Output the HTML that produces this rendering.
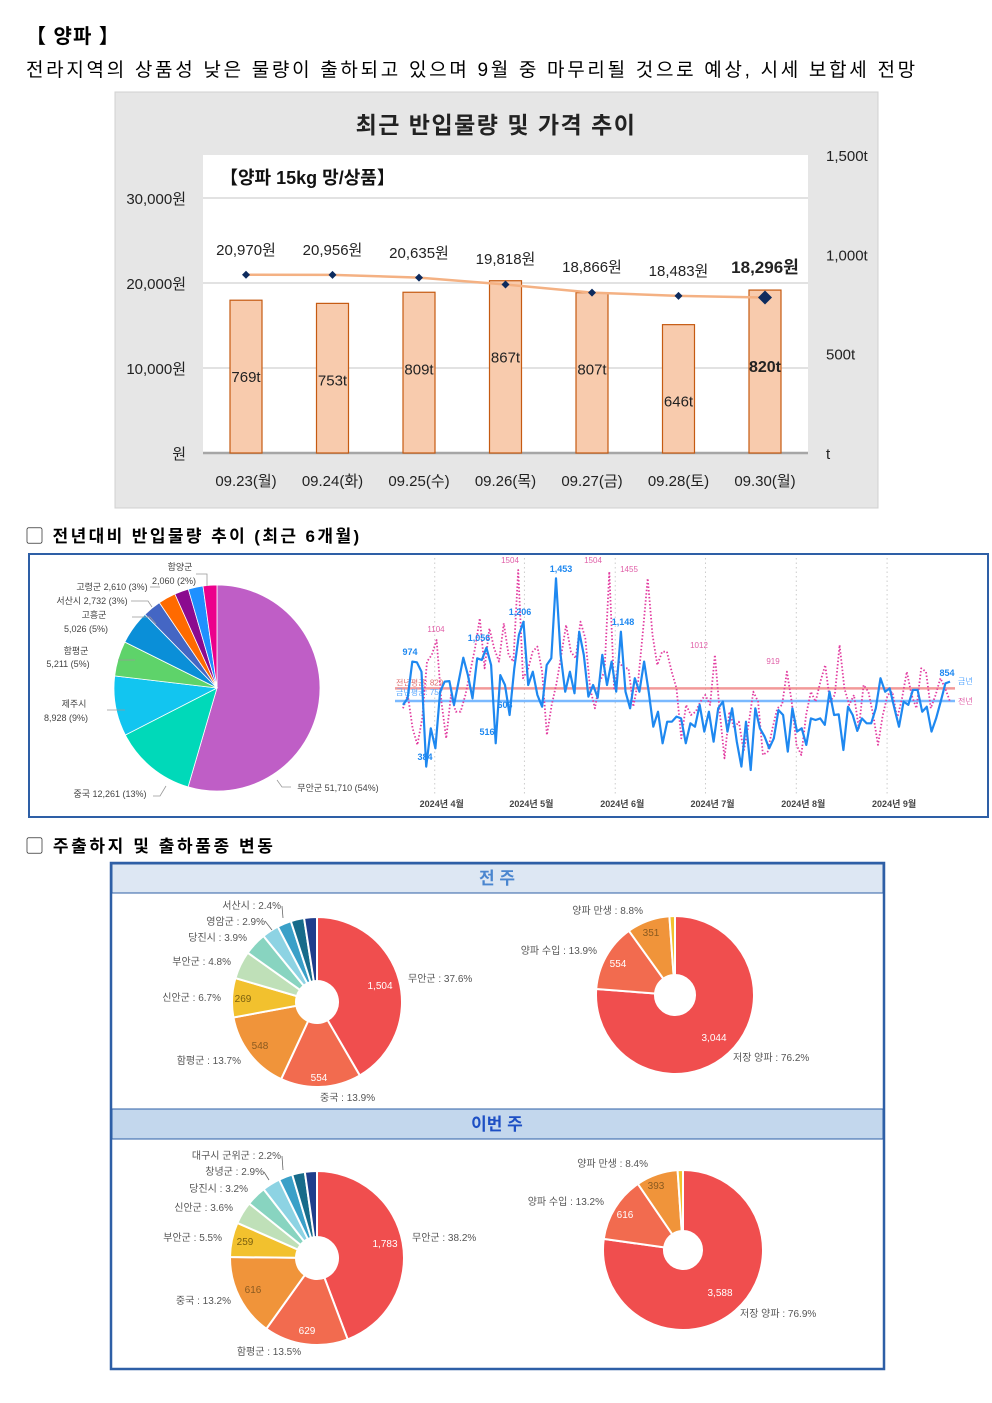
<!DOCTYPE html>
<html><head><meta charset="utf-8">
<style>
body{margin:0;background:#fff;width:992px;height:1403px;position:relative;overflow:hidden;font-family:"Liberation Sans","Noto Sans CJK KR",sans-serif;}
.t{position:absolute;white-space:nowrap;color:#000}
svg{position:absolute;left:0;top:0}
</style></head>
<body>
<div class="t" style="left:26px;top:20px;font-size:20px;font-weight:bold;letter-spacing:1px;">【 양파 】</div>
<div class="t" style="left:26px;top:55px;font-size:19px;letter-spacing:2.7px;">전라지역의 상품성 낮은 물량이 출하되고 있으며 9월 중 마무리될 것으로 예상, 시세 보합세 전망</div>
<div class="t" style="left:26px;top:522px;font-size:17px;font-weight:bold;letter-spacing:2.4px;">▢ 전년대비 반입물량 추이 (최근 6개월)</div>
<div class="t" style="left:26px;top:832px;font-size:17px;font-weight:bold;letter-spacing:2.6px;">▢ 주출하지 및 출하품종 변동</div>

<svg id="s" width="992" height="1403" font-family="Liberation Sans, Noto Sans CJK KR, sans-serif">
 <g id="topchart">
  <rect x="115" y="92" width="763" height="416" fill="#e6e6e6" stroke="#d0d0d0"/>
  <rect x="203" y="155" width="605" height="298" fill="#fff"/>
  <text x="496" y="133" font-size="23" text-anchor="middle" font-weight="bold" fill="#222" letter-spacing="1.5">최근 반입물량 및 가격 추이</text>
  <text x="220" y="184" font-size="18" font-weight="bold" fill="#111">【양파 15kg 망/상품】</text>
 </g>
 <rect x="29" y="554" width="959" height="263" fill="#fff" stroke="#2e5fa6" stroke-width="2"/>
 <g id="pie1"></g>
 <g id="line"></g>
 <rect x="111" y="863" width="773" height="506" fill="#fff" stroke="#2e5fa6" stroke-width="2.5"/>
 <rect x="112" y="864" width="771" height="29" fill="#dde7f3" stroke="#2e5fa6" stroke-width="1"/>
 <text x="497" y="884" font-size="17" font-weight="bold" text-anchor="middle" fill="#4a86cf">전 주</text>
 <rect x="112" y="1109" width="771" height="30" fill="#c3d7ed" stroke="#2e5fa6" stroke-width="1"/>
 <text x="497" y="1130" font-size="17" font-weight="bold" text-anchor="middle" fill="#1d4fc4">이번 주</text>
 <g id="donuts"></g>
</svg>

<script>
const NS="http://www.w3.org/2000/svg";
function mk(parent,tag,attrs,txt){const e=document.createElementNS(NS,tag);for(const k in attrs)e.setAttribute(k,attrs[k]);if(txt!==undefined)e.textContent=txt;parent.appendChild(e);return e;}

const dates=["09.23(월)","09.24(화)","09.25(수)","09.26(목)","09.27(금)","09.28(토)","09.30(월)"];
const volumes=[769,753,809,867,807,646,820];
const prices=[20970,20956,20635,19818,18866,18483,18296];
const leftTicks=[0,10000,20000,30000];
const leftTickLabels=["원","10,000원","20,000원","30,000원"];
const rightTicks=[0,500,1000,1500];
const rightTickLabels=["t","500t","1,000t","1,500t"];

const topG=document.getElementById('topchart');
const yP=v=>453-v*0.0085;
const yV=v=>453-v*0.1987;
const xC=i=>246+i*86.5;
leftTicks.forEach((t,i)=>{
  if(t>0){const gl=mk(topG,'line',{x1:203,x2:808,y1:yP(t),y2:yP(t),stroke:'#d9d9d9','stroke-width':1.5});
  }
  const tx=mk(topG,'text',{x:186,y:yP(t)+6,'font-size':15,'text-anchor':'end',fill:'#222'},leftTickLabels[i]);
  
});
rightTicks.forEach((t,i)=>{
  const tx=mk(topG,'text',{x:826,y:yV(t)+6,'font-size':15,fill:'#222'},rightTickLabels[i]);
  
});
const base=mk(topG,'line',{x1:203,x2:808,y1:453,y2:453,stroke:'#a6a6a6','stroke-width':2.5});

volumes.forEach((v,i)=>{
  const b=mk(topG,'rect',{x:xC(i)-16,y:yV(v),width:32,height:453-yV(v),fill:'#f8cbad',stroke:'#c55a11','stroke-width':1.2});
  
  const last=i===volumes.length-1;
  const lb=mk(topG,'text',{x:xC(i),y:yV(v)+82,'font-size':last?16:15,'font-weight':last?'bold':'normal','text-anchor':'middle',fill:'#222'},v+'t');
  
  const d=mk(topG,'text',{x:xC(i),y:486,'font-size':15,'text-anchor':'middle',fill:'#222'},dates[i]);
  
});
let pd='';
prices.forEach((p,i)=>{pd+=(i?'L':'M')+xC(i)+','+yP(p);});
const pl=mk(topG,'path',{d:pd,fill:'none',stroke:'#f4b183','stroke-width':2.5,'stroke-linejoin':'round'});

const priceLabelY=[255,255,258,264,272,276,273];
prices.forEach((p,i)=>{
  const last=i===prices.length-1;const s=last?7:4;
  const x=xC(i),y=yP(p);
  const m=mk(topG,'path',{d:`M${x},${y-s}L${x+s},${y}L${x},${y+s}L${x-s},${y}Z`,fill:'#0d2b5e'});
  
  const t=mk(topG,'text',{x:x,y:priceLabelY[i],'font-size':last?17:15,'font-weight':last?'bold':'normal','text-anchor':'middle',fill:'#222'},p.toLocaleString('en-US')+'원');
  
});

function arcPath(cx,cy,r,r0,a0,a1){
  const p=(rr,a)=>[cx+rr*Math.sin(a),cy-rr*Math.cos(a)];
  const large=(a1-a0)>Math.PI?1:0;
  const [x1,y1]=p(r,a0),[x2,y2]=p(r,a1);
  if(r0<=0) return `M${cx},${cy}L${x1},${y1}A${r},${r} 0 ${large} 1 ${x2},${y2}Z`;
  const [x3,y3]=p(r0,a1),[x4,y4]=p(r0,a0);
  return `M${x1},${y1}A${r},${r} 0 ${large} 1 ${x2},${y2}L${x3},${y3}A${r0},${r0} 0 ${large} 0 ${x4},${y4}Z`;
}
function drawPie(g,cx,cy,r,r0,vals,cols,sw,name){
  const tot=vals.reduce((a,b)=>a+b,0);let a=0;
  vals.forEach((v,i)=>{
    const a1=a+v/tot*2*Math.PI;
    const p=mk(g,'path',{d:arcPath(cx,cy,r,r0,a,a1),fill:cols[i],stroke:'#fff','stroke-width':sw});
    
    a=a1;
  });
}
function label(g,x,y,txt,size,anchor,fill,weight){
  const t=mk(g,'text',{x:x,y:y,'font-size':size,'text-anchor':anchor||'start',fill:fill||'#444','font-weight':weight||'normal'},txt);
  
}

const pieNames=["무안군","중국","제주시","함평군","고흥군","서산시","고령군","기타1","기타2","함양군"];
const pieValues=[51710,12261,8928,5211,5026,2732,2610,2100,2200,2060];
const pieColors=["#bf5ec6","#00d9b9","#12c5f0","#5ed36a","#0a8fd8","#4466c4","#ff6a00","#8b0a8f","#1e90ff","#ec008c"];
const pie1=document.getElementById('pie1');
drawPie(pie1,217,688,103,0,pieValues,pieColors,0.8,'origin-slice');
[["함양군",180,570,"middle"],["2,060 (2%)",174,584,"middle"],["고령군 2,610 (3%)",112,590,"middle"],["서산시 2,732 (3%)",92,604,"middle"],["고흥군",94,618,"middle"],["5,026 (5%)",86,632,"middle"],["함평군",76,654,"middle"],["5,211 (5%)",68,667,"middle"],["제주시",74,707,"middle"],["8,928 (9%)",66,721,"middle"],["중국 12,261 (13%)",110,797,"middle"],["무안군 51,710 (54%)",338,791,"middle"]].forEach(l=>label(pie1,l[1],l[2],l[0],9,l[3],'#444'));
const leaders=[[196,574,207,574,207,586],[150,587,160,587],[131,601,148,601,152,607],[132,617,150,617,156,624],[118,660,135,660],[107,710,125,710],[153,796,160,796,166,786],[291,787,282,787,277,780]];
leaders.forEach(p=>{let d='M'+p[0]+','+p[1];for(let i=2;i<p.length;i+=2)d+='L'+p[i]+','+p[i+1];
  const l=mk(pie1,'path',{d:d,fill:'none',stroke:'#999','stroke-width':0.8});});

const thisYear=[735,772,980,976,923,386,603,490,810,867,870,735,867,1002,904,772,999,989,1059,961,518,904,848,678,942,1131,1206,848,923,791,725,961,999,1451,1018,810,923,801,1149,1018,782,848,776,1018,848,980,810,1149,810,716,886,810,980,810,612,697,518,640,640,669,659,518,631,612,735,584,697,527,716,754,584,716,527,386,640,367,716,603,556,490,546,706,678,471,716,584,603,509,659,650,659,622,810,678,682,480,725,678,588,659,631,631,716,886,810,829,716,612,754,735,820,820,697,725,584,659,754,857,867];
const lastYear=[716,791,603,509,659,980,1018,1102,754,546,791,697,697,791,923,1055,1225,942,1168,1055,980,1197,1018,980,1498,886,933,1036,1065,923,565,735,857,1018,1187,1036,999,1206,1112,829,716,867,923,1489,829,980,942,942,725,867,1149,1451,1131,961,1036,1036,923,829,546,735,678,697,754,791,735,1018,697,433,697,603,640,471,622,810,754,452,471,603,716,735,923,754,509,452,678,810,754,867,961,754,791,1074,829,735,791,603,848,810,678,509,678,791,810,659,772,923,791,716,942,923,716,791,886,829,754];
const avgLastYear=829, avgThisYear=757;
const months=["2024년 4월","2024년 5월","2024년 6월","2024년 7월","2024년 8월","2024년 9월"];
const monthStart=[0.058,0.222,0.388,0.553,0.719,0.885];
const lineG=document.getElementById('line');
const LX0=403,LX1=950;
const ly=v=>578+(1453-v)*0.1768;
const lxf=f=>LX0+f*(LX1-LX0);
months.forEach((m,i)=>{
  const x=lxf(monthStart[i]);
  const gl=mk(lineG,'line',{x1:x,x2:x,y1:558,y2:795,stroke:'#ccc','stroke-dasharray':'1.5,3'});
  
  const t=mk(lineG,'text',{x:x+7,y:807,'font-size':9,'font-weight':'bold','text-anchor':'middle',fill:'#444'},m);
  
});
const a1=mk(lineG,'line',{x1:395,x2:955,y1:ly(avgLastYear),y2:ly(avgLastYear),stroke:'#f08080','stroke-width':2.5,opacity:0.8});

const a2=mk(lineG,'line',{x1:395,x2:955,y1:ly(avgThisYear),y2:ly(avgThisYear),stroke:'#5aa8ff','stroke-width':2.5,opacity:0.8});

label(lineG,396,ly(avgLastYear)-3,'전년평균: '+avgLastYear,8,'start','#e07070');
label(lineG,396,ly(avgThisYear)-6,'금년평균: '+avgThisYear,8,'start','#5aa8ff');
function series(vals,stroke,w,dash,name){
  let d='';vals.forEach((v,i)=>{d+=(i?'L':'M')+lxf(i/(vals.length-1)).toFixed(1)+','+ly(v).toFixed(1);});
  const p=mk(lineG,'path',{d:d,fill:'none',stroke:stroke,'stroke-width':w,'stroke-linejoin':'round'});
  if(dash)p.setAttribute('stroke-dasharray',dash);
  
}
series(lastYear,'#e23ca0',1.8,'1.5,2','last-year-line');
series(thisYear,'#1e88f0',2.2,null,'this-year-line');
label(lineG,958,684,'금년',8,'start','#5aa8ff');
label(lineG,958,704,'전년',8,'start','#e060a8');
[["974",410,655],["1,056",479,641],["1,206",520,615],["1,453",561,572],["1,148",623,625],["854",947,676],["384",425,760],["516",487,735],["603",505,708]].forEach(l=>label(lineG,l[1],l[2],l[0],9,'middle','#1e88f0','bold'));
[["1104",436,632],["1504",510,563],["1504",593,563],["1455",629,572],["1012",699,648],["919",773,664]].forEach(l=>label(lineG,l[1],l[2],l[0],8,'middle','#e060a8'));

const lwOrigins=["무안군","중국","함평군","신안군","부안군","당진시","영암군","서산시","기타A","기타B"];
const lwOriginVals=[1504,554,548,269,192,156,116,96,92,88];
const twOrigins=["무안군","함평군","중국","부안군","신안군","당진시","창녕군","대구시 군위군","기타A","기타B"];
const twOriginVals=[1783,629,616,259,168,150,135,103,95,90];
const lwVariety=["저장 양파","양파 수입","양파 만생","기타"];
const lwVarietyVals=[3044,554,351,45];
const twVariety=["저장 양파","양파 수입","양파 만생","기타"];
const twVarietyVals=[3588,616,393,50];
const oCols=["#f04e4e","#f26b4f","#f0943a","#f2c12e","#bfe0b8","#88d4c0","#8dd3e3","#3aa0c8","#176b8a","#1f3e8c"];
const vCols=["#f04e4e","#f26b4f","#f0943a","#f2c12e"];
const dg=document.getElementById('donuts');
drawPie(dg,317,1002,85,21,lwOriginVals,oCols,2,'last-week-origin-slice');
drawPie(dg,675,995,79,20,lwVarietyVals,vCols,2,'last-week-variety-slice');
drawPie(dg,317,1258,87,21,twOriginVals,oCols,2,'this-week-origin-slice');
drawPie(dg,683,1250,80,19,twVarietyVals,vCols,2,'this-week-variety-slice');
const fs=10;
[["서산시 : 2.4%",281,909,'end'],["영암군 : 2.9%",265,925,'end'],["당진시 : 3.9%",247,941,'end'],["부안군 : 4.8%",231,965,'end'],["신안군 : 6.7%",221,1001,'end'],["함평군 : 13.7%",241,1064,'end'],["중국 : 13.9%",320,1101,'start'],["무안군 : 37.6%",408,982,'start']].forEach(l=>label(dg,l[1],l[2],l[0],fs,l[3],'#555'));
label(dg,380,989,'1,504',fs,'middle','#fff');label(dg,319,1081,'554',fs,'middle','#fff');label(dg,260,1049,'548',fs,'middle','#8a5a20');label(dg,243,1002,'269',fs,'middle','#7a6010');
[["양파 만생 : 8.8%",643,914,'end'],["양파 수입 : 13.9%",597,954,'end'],["저장 양파 : 76.2%",733,1061,'start']].forEach(l=>label(dg,l[1],l[2],l[0],fs,l[3],'#555'));
label(dg,714,1041,'3,044',fs,'middle','#fff');label(dg,618,967,'554',fs,'middle','#fff');label(dg,651,936,'351',fs,'middle','#8a5a20');
[["대구시 군위군 : 2.2%",281,1159,'end'],["창녕군 : 2.9%",264,1175,'end'],["당진시 : 3.2%",248,1192,'end'],["신안군 : 3.6%",233,1211,'end'],["부안군 : 5.5%",222,1241,'end'],["중국 : 13.2%",231,1304,'end'],["함평군 : 13.5%",269,1355,'middle'],["무안군 : 38.2%",412,1241,'start']].forEach(l=>label(dg,l[1],l[2],l[0],fs,l[3],'#555'));
label(dg,385,1247,'1,783',fs,'middle','#fff');label(dg,307,1334,'629',fs,'middle','#fff');label(dg,253,1293,'616',fs,'middle','#8a5a20');label(dg,245,1245,'259',fs,'middle','#7a6010');
[["양파 만생 : 8.4%",648,1167,'end'],["양파 수입 : 13.2%",604,1205,'end'],["저장 양파 : 76.9%",740,1317,'start']].forEach(l=>label(dg,l[1],l[2],l[0],fs,l[3],'#555'));
label(dg,720,1296,'3,588',fs,'middle','#fff');label(dg,625,1218,'616',fs,'middle','#fff');label(dg,656,1189,'393',fs,'middle','#8a5a20');
const dl=[[282,906,283,918],[265,921,272,930],[282,1156,283,1170],[264,1172,269,1180]];
dl.forEach(p=>{const l=mk(dg,'line',{x1:p[0],y1:p[1],x2:p[2],y2:p[3],stroke:'#666','stroke-width':0.8});});
</script>
</body></html>
